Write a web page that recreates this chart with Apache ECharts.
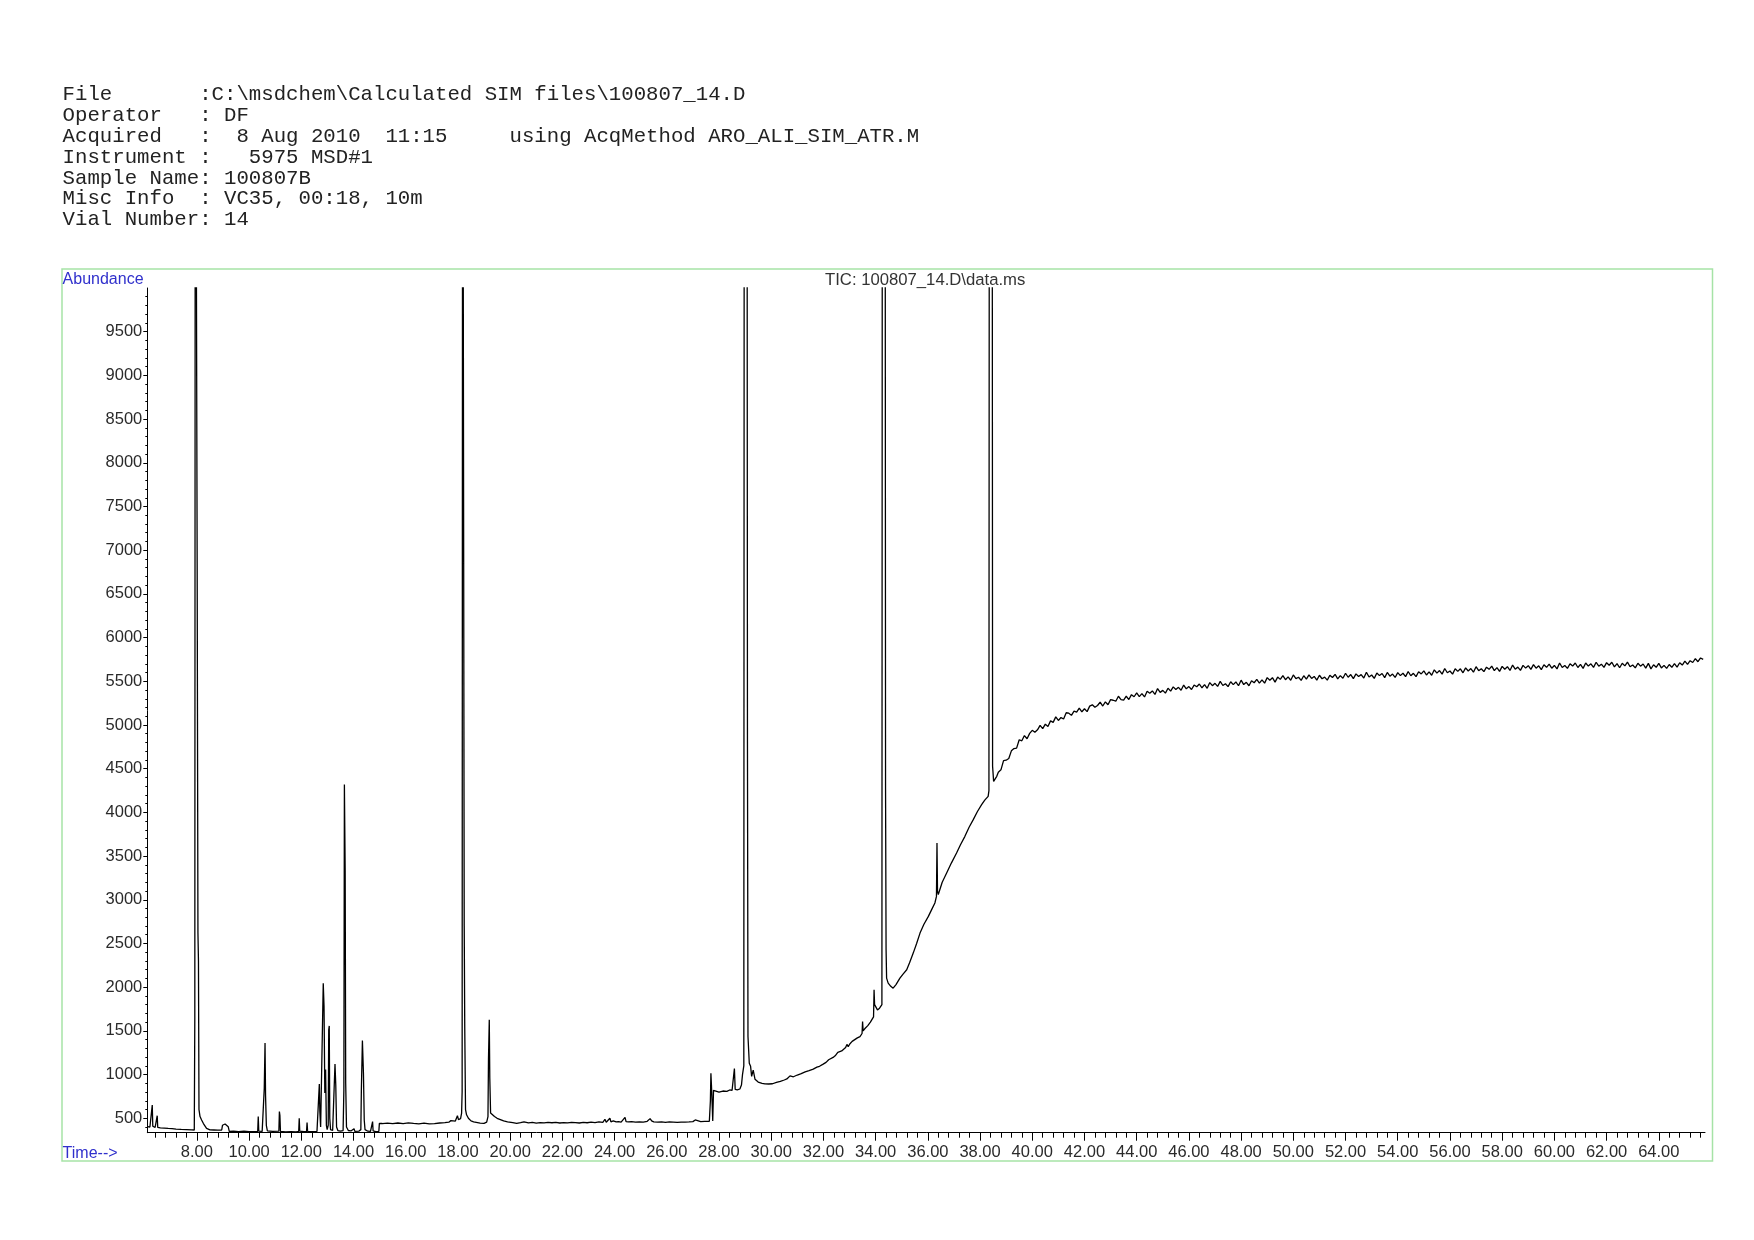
<!DOCTYPE html>
<html>
<head>
<meta charset="utf-8">
<title>TIC 100807_14.D</title>
<script src="https://cdn.jsdelivr.net/npm/echarts@6.0.0/dist/echarts.min.js"></script>
<style>
  html, body { margin: 0; padding: 0; background: #fff; }
  #tic { width: 1754px; height: 1240px; }
</style>
</head>
<body>
<div id="tic"></div>
<script>
// header block of the ChemStation report
const headerLines = [
  'File       :C:\\msdchem\\Calculated SIM files\\100807_14.D',
  'Operator   : DF',
  'Acquired   :  8 Aug 2010  11:15     using AcqMethod ARO_ALI_SIM_ATR.M',
  'Instrument :   5975 MSD#1',
  'Sample Name: 100807B',
  'Misc Info  : VC35, 00:18, 10m',
  'Vial Number: 14'
]

// tick labels
const xMajorTicks = [8, 10, 12, 14, 16, 18, 20, 22, 24, 26, 28, 30, 32, 34, 36, 38, 40,
  42, 44, 46, 48, 50, 52, 54, 56, 58, 60, 62, 64]
const yMajorTicks = [500, 1000, 1500, 2000, 2500, 3000, 3500, 4000, 4500, 5000,
  5500, 6000, 6500, 7000, 7500, 8000, 8500, 9000, 9500]

// trace, [time (min), abundance]; peaks that run off scale are given 15000
const earlyTrace = [
  [6.10, 404], [6.20, 400], [6.27, 398], [6.29, 652], [6.31, 410], [6.40, 395], [6.46, 392],
  [6.48, 530], [6.50, 395], [6.60, 390], [6.75, 388], [6.90, 384], [7.05, 382], [7.20, 376],
  [7.40, 372], [7.60, 370], [7.80, 368], [7.90, 366], [7.92, 1650], [7.94, 15000], [7.99, 15000],
  [8.01, 6850], [8.04, 2620], [8.06, 2300], [8.08, 600], [8.12, 520], [8.18, 481], [8.25, 440],
  [8.37, 385], [8.50, 368], [8.65, 366], [8.80, 364], [8.95, 366], [8.98, 420], [9.05, 410],
  [9.08, 435], [9.14, 420], [9.20, 404], [9.24, 350], [9.40, 352], [9.60, 348], [9.80, 352],
  [10.00, 346], [10.20, 348], [10.33, 350], [10.35, 519], [10.37, 352], [10.50, 350],
  [10.56, 355], [10.58, 840], [10.61, 1360], [10.63, 760], [10.66, 420], [10.70, 355],
  [10.90, 350], [11.14, 352], [11.16, 576], [11.18, 530], [11.20, 350], [11.40, 345],
  [11.60, 347], [11.80, 345], [11.90, 350], [11.92, 500], [11.94, 352], [12.10, 346],
  [12.20, 348], [12.22, 450], [12.24, 350], [12.40, 348], [12.60, 350], [12.67, 360],
  [12.69, 893], [12.71, 576], [12.74, 400], [12.81, 380], [12.84, 2046], [12.87, 1778],
  [12.90, 790], [12.93, 1059], [12.96, 420], [12.99, 370], [13.03, 420], [13.05, 1511],
  [13.07, 1557], [13.09, 500], [13.12, 370], [13.20, 360], [13.27, 380], [13.29, 1122],
  [13.32, 878], [13.35, 400], [13.40, 360], [13.50, 352], [13.60, 360], [13.63, 824],
  [13.65, 4320], [13.68, 3320], [13.70, 900], [13.73, 400], [13.80, 360], [13.90, 355],
  [14.02, 380], [14.05, 350], [14.20, 352], [14.28, 370], [14.30, 824], [14.34, 1389],
  [14.38, 1014], [14.41, 480], [14.44, 370], [14.55, 352], [14.65, 350], [14.71, 360],
  [14.73, 462], [14.75, 355], [14.85, 346], [14.97, 350]
]

const midTrace = [
  [14.99, 442], [15.10, 440], [15.30, 445], [15.50, 438], [15.70, 446], [15.90, 440],
  [16.10, 448], [16.30, 442], [16.50, 437], [16.70, 444], [16.90, 435], [17.10, 440],
  [17.30, 446], [17.50, 450], [17.65, 455], [17.73, 473], [17.78, 452], [17.90, 468],
  [17.98, 530], [18.02, 485], [18.10, 495], [18.14, 560], [18.16, 800], [18.18, 15000],
  [18.22, 15000], [18.24, 2700], [18.26, 1550], [18.29, 600], [18.33, 540], [18.40, 500],
  [18.50, 470], [18.60, 460], [18.70, 454], [18.85, 445], [19.00, 442], [19.10, 455],
  [19.15, 520], [19.17, 1188], [19.20, 1626], [19.22, 959], [19.25, 560], [19.30, 540],
  [19.40, 520], [19.50, 500], [19.60, 488], [19.75, 470], [19.90, 460], [20.10, 450],
  [20.25, 442], [20.40, 450], [20.53, 460], [20.55, 481], [20.58, 448], [20.70, 448],
  [20.85, 452], [21.00, 445], [21.15, 450], [21.30, 447], [21.45, 453], [21.60, 449],
  [21.75, 452], [21.90, 446], [22.05, 451], [22.20, 448], [22.35, 454], [22.50, 450],
  [22.65, 446], [22.80, 452], [22.95, 449], [23.10, 455], [23.25, 451], [23.40, 458],
  [23.55, 452], [23.63, 489], [23.68, 455], [23.82, 500], [23.86, 460], [23.95, 470],
  [24.01, 482], [24.06, 458], [24.15, 462], [24.25, 455], [24.40, 511], [24.44, 462],
  [24.53, 458], [24.65, 462], [24.80, 455], [24.95, 460], [25.10, 457], [25.25, 465],
  [25.36, 496], [25.42, 470], [25.50, 458], [25.65, 455], [25.80, 460], [25.95, 454],
  [26.10, 458], [26.25, 455], [26.40, 452], [26.55, 457], [26.70, 455], [26.85, 458],
  [27.00, 462], [27.09, 481], [27.15, 466], [27.30, 462], [27.45, 465], [27.63, 466],
  [27.67, 700], [27.69, 1015], [27.71, 880], [27.74, 650], [27.76, 470], [27.79, 820],
  [27.85, 805], [28.00, 800], [28.15, 812], [28.30, 808], [28.41, 824], [28.50, 818],
  [28.57, 830], [28.59, 1070], [28.62, 830], [28.70, 825], [28.80, 835], [28.86, 880],
  [28.90, 1000], [28.95, 1100], [28.97, 15000], [29.07, 15000], [29.09, 4800], [29.11, 1435],
  [29.16, 1130], [29.21, 1094], [29.25, 980], [29.31, 1050], [29.38, 946], [29.44, 927]
]

const rampTrace = [
  [29.50, 915], [29.65, 900], [29.76, 893], [29.90, 892], [30.05, 895], [30.20, 910],
  [30.35, 922], [30.50, 938], [30.60, 950], [30.72, 985], [30.85, 975], [31.00, 995],
  [31.15, 1010], [31.30, 1030], [31.45, 1045], [31.61, 1062], [31.75, 1085], [31.85, 1095],
  [31.99, 1120], [32.10, 1140], [32.20, 1170], [32.37, 1196], [32.45, 1215], [32.55, 1255],
  [32.60, 1240], [32.70, 1270], [32.76, 1292], [32.85, 1310], [32.90, 1345], [32.95, 1320],
  [33.01, 1350], [33.10, 1380], [33.20, 1400], [33.30, 1420], [33.40, 1435], [33.48, 1470],
  [33.50, 1607], [33.52, 1500], [33.60, 1530], [33.70, 1560], [33.80, 1600], [33.85, 1626],
  [33.92, 1660], [33.94, 1970], [33.96, 1800], [34.00, 1790], [34.07, 1740], [34.15, 1760],
  [34.21, 1779], [34.24, 1800], [34.26, 15000], [34.36, 15000], [34.38, 4260], [34.40, 2430],
  [34.42, 2104], [34.48, 2046], [34.58, 2010], [34.67, 1989], [34.78, 2030], [34.93, 2104],
  [35.05, 2150], [35.19, 2199], [35.30, 2280], [35.44, 2390], [35.57, 2500], [35.70, 2619],
  [35.85, 2720], [36.02, 2810], [36.15, 2890], [36.27, 2963], [36.33, 3039], [36.35, 3649],
  [36.37, 3100], [36.40, 3060], [36.55, 3200], [36.72, 3306], [36.90, 3420], [37.10, 3535],
  [37.25, 3630], [37.42, 3726], [37.58, 3830], [37.74, 3917], [37.90, 4010], [38.06, 4089],
  [38.18, 4140], [38.31, 4184], [38.34, 4250], [38.36, 15000], [38.46, 15000], [38.48, 4527],
  [38.52, 4355], [38.64, 4413]
]

const plateauTrace = [
  [38.7, 4460], [38.8, 4487], [38.9, 4593], [39.0, 4597], [39.1, 4616], [39.2, 4704],
  [39.3, 4730], [39.4, 4735], [39.5, 4831], [39.6, 4819], [39.7, 4879], [39.8, 4843],
  [39.9, 4904], [40.0, 4939], [40.1, 4917], [40.2, 4945], [40.3, 4995], [40.4, 4958],
  [40.5, 5010], [40.6, 4982], [40.7, 5047], [40.8, 5030], [40.9, 5093], [41.0, 5052],
  [41.1, 5085], [41.2, 5068], [41.3, 5140], [41.4, 5135], [41.5, 5110], [41.6, 5158],
  [41.7, 5147], [41.8, 5194], [41.9, 5151], [42.0, 5186], [42.1, 5153], [42.2, 5216],
  [42.3, 5231], [42.4, 5202], [42.5, 5223], [42.6, 5262], [42.7, 5217], [42.8, 5264],
  [42.9, 5231], [43.0, 5290], [43.1, 5283], [43.2, 5272], [43.3, 5329], [43.4, 5291],
  [43.5, 5285], [43.6, 5329], [43.7, 5291], [43.8, 5347], [43.9, 5323], [44.0, 5367],
  [44.1, 5325], [44.2, 5359], [44.3, 5321], [44.4, 5385], [44.5, 5363], [44.6, 5390],
  [44.7, 5350], [44.8, 5417], [44.9, 5373], [45.0, 5396], [45.1, 5364], [45.2, 5421],
  [45.3, 5387], [45.4, 5436], [45.5, 5406], [45.6, 5431], [45.7, 5397], [45.8, 5457],
  [45.9, 5414], [46.0, 5439], [46.1, 5406], [46.2, 5457], [46.3, 5438], [46.4, 5469],
  [46.5, 5426], [46.6, 5461], [46.7, 5420], [46.8, 5485], [46.9, 5450], [47.0, 5477],
  [47.1, 5441], [47.2, 5499], [47.3, 5452], [47.4, 5472], [47.5, 5439], [47.6, 5495],
  [47.7, 5462], [47.8, 5492], [47.9, 5449], [48.0, 5513], [48.1, 5462], [48.2, 5488],
  [48.3, 5449], [48.4, 5506], [48.5, 5483], [48.6, 5521], [48.7, 5478], [48.8, 5516],
  [48.9, 5479], [49.0, 5542], [49.1, 5512], [49.2, 5541], [49.3, 5491], [49.4, 5548],
  [49.5, 5522], [49.6, 5565], [49.7, 5518], [49.8, 5550], [49.9, 5512], [50.0, 5572],
  [50.1, 5530], [50.2, 5546], [50.3, 5510], [50.4, 5564], [50.5, 5524], [50.6, 5574],
  [50.7, 5532], [50.8, 5556], [50.9, 5514], [51.0, 5569], [51.1, 5529], [51.2, 5548],
  [51.3, 5514], [51.4, 5569], [51.5, 5543], [51.6, 5580], [51.7, 5528], [51.8, 5565],
  [51.9, 5535], [52.0, 5592], [52.1, 5546], [52.2, 5577], [52.3, 5530], [52.4, 5585],
  [52.5, 5554], [52.6, 5576], [52.7, 5537], [52.8, 5604], [52.9, 5549], [53.0, 5572],
  [53.1, 5533], [53.2, 5594], [53.3, 5565], [53.4, 5589], [53.5, 5542], [53.6, 5601],
  [53.7, 5558], [53.8, 5583], [53.9, 5544], [54.0, 5599], [54.1, 5565], [54.2, 5592],
  [54.3, 5553], [54.4, 5612], [54.5, 5563], [54.6, 5591], [54.7, 5553], [54.8, 5609],
  [54.9, 5584], [55.0, 5620], [55.1, 5572], [55.2, 5608], [55.3, 5569], [55.4, 5631],
  [55.5, 5593], [55.6, 5623], [55.7, 5582], [55.8, 5646], [55.9, 5598], [56.0, 5618],
  [56.1, 5582], [56.2, 5643], [56.3, 5613], [56.4, 5643], [56.5, 5597], [56.6, 5654],
  [56.7, 5618], [56.8, 5646], [56.9, 5604], [57.0, 5667], [57.1, 5621], [57.2, 5644],
  [57.3, 5611], [57.4, 5662], [57.5, 5637], [57.6, 5673], [57.7, 5622], [57.8, 5657],
  [57.9, 5614], [58.0, 5671], [58.1, 5638], [58.2, 5667], [58.3, 5624], [58.4, 5686],
  [58.5, 5639], [58.6, 5662], [58.7, 5625], [58.8, 5682], [58.9, 5651], [59.0, 5678],
  [59.1, 5636], [59.2, 5691], [59.3, 5650], [59.4, 5677], [59.5, 5633], [59.6, 5689],
  [59.7, 5660], [59.8, 5697], [59.9, 5650], [60.0, 5681], [60.1, 5642], [60.2, 5709],
  [60.3, 5658], [60.4, 5681], [60.5, 5648], [60.6, 5701], [60.7, 5674], [60.8, 5709],
  [60.9, 5658], [61.0, 5693], [61.1, 5648], [61.2, 5709], [61.3, 5674], [61.4, 5700],
  [61.5, 5659], [61.6, 5718], [61.7, 5673], [61.8, 5696], [61.9, 5659], [62.0, 5713],
  [62.1, 5684], [62.2, 5718], [62.3, 5665], [62.4, 5702], [62.5, 5655], [62.6, 5707],
  [62.7, 5676], [62.8, 5719], [62.9, 5666], [63.0, 5687], [63.1, 5653], [63.2, 5706],
  [63.3, 5673], [63.4, 5698], [63.5, 5651], [63.6, 5705], [63.7, 5642], [63.8, 5689],
  [63.9, 5660], [64.0, 5705], [64.1, 5653], [64.2, 5682], [64.3, 5647], [64.4, 5692],
  [64.5, 5660], [64.6, 5703], [64.7, 5663], [64.8, 5712], [64.9, 5686], [65.0, 5731],
  [65.1, 5694], [65.2, 5736], [65.3, 5715], [65.4, 5759], [65.5, 5724], [65.6, 5767],
  [65.7, 5751]
]

const trace = earlyTrace.concat(midTrace, rampTrace, plateauTrace)

// minor ticks: every 0.4 min on time, every 100 on abundance
const xMinorTicks = []
for (let k = 16; k <= 164; k++) xMinorTicks.push(Math.round(k * 4) / 10)
const yMinorTicks = []
for (let v = 400; v <= 9900; v += 100) yMinorTicks.push(v)

const xMin = 6.10
const xMax = 65.77
const yMin = 335
const yMax = 10000

const labelFont = { fontFamily: 'Liberation Sans, Arial, sans-serif', fontSize: 16.5, color: '#2a2a2a' }

const chart = echarts.init(document.getElementById('tic'))

const headerGraphics = headerLines.map((line, i) => ({
  type: 'text',
  left: 62.6,
  top: 84 + i * 20.9,
  style: {
    text: line,
    fontFamily: 'Liberation Mono, Courier New, monospace',
    fontSize: 20.7,
    fill: '#222'
  }
}))

chart.setOption({
  animation: false,
  backgroundColor: '#fff',
  grid: { left: 147.3, top: 288, width: 1557.7, height: 844.7, containLabel: false },
  xAxis: [
    {
      type: 'value',
      min: xMin,
      max: xMax,
      position: 'bottom',
      axisLine: { show: true, lineStyle: { color: '#000', width: 1 } },
      axisTick: { show: true, customValues: xMajorTicks, length: 8, lineStyle: { color: '#000' } },
      axisLabel: Object.assign({ customValues: xMajorTicks, margin: 11, formatter: v => v.toFixed(2) }, labelFont),
      splitLine: { show: false }
    },
    {
      type: 'value',
      min: xMin,
      max: xMax,
      position: 'bottom',
      axisLine: { show: false },
      axisTick: { show: true, customValues: xMinorTicks, length: 5, lineStyle: { color: '#000' } },
      axisLabel: { show: false },
      splitLine: { show: false }
    }
  ],
  yAxis: [
    {
      type: 'value',
      min: yMin,
      max: yMax,
      position: 'left',
      axisLine: { show: true, lineStyle: { color: '#000', width: 1 } },
      axisTick: { show: true, customValues: yMajorTicks, length: 4, lineStyle: { color: '#000' } },
      axisLabel: Object.assign({ customValues: yMajorTicks, margin: 5, formatter: v => String(v) }, labelFont),
      splitLine: { show: false }
    },
    {
      type: 'value',
      min: yMin,
      max: yMax,
      position: 'left',
      axisLine: { show: false },
      axisTick: { show: true, customValues: yMinorTicks, length: 2, lineStyle: { color: '#000' } },
      axisLabel: { show: false },
      splitLine: { show: false }
    }
  ],
  graphic: headerGraphics.concat([
    {
      type: 'rect',
      shape: { x: 62, y: 269, width: 1650.5, height: 892 },
      style: { fill: 'none', stroke: '#a6e3a6', lineWidth: 1.5 },
      silent: true
    },
    {
      type: 'text',
      left: 62.6,
      top: 272,
      style: { text: 'Abundance', fontFamily: 'Liberation Sans, Arial, sans-serif', fontSize: 16, fill: '#3030cc' }
    },
    {
      type: 'text',
      left: 62.6,
      top: 1146,
      style: { text: 'Time-->', fontFamily: 'Liberation Sans, Arial, sans-serif', fontSize: 16, fill: '#3030cc' }
    },
    {
      type: 'text',
      left: 825,
      top: 272,
      style: { text: 'TIC: 100807_14.D\\data.ms', fontFamily: 'Liberation Sans, Arial, sans-serif', fontSize: 16.7, fill: '#333' }
    }
  ]),
  series: [
    {
      name: 'TIC',
      type: 'line',
      xAxisIndex: 0,
      yAxisIndex: 0,
      data: trace,
      showSymbol: false,
      clip: true,
      sampling: 'none',
      lineStyle: { color: '#000', width: 1.3 },
      emphasis: { disabled: true }
    }
  ]
})
</script>
</body>
</html>
